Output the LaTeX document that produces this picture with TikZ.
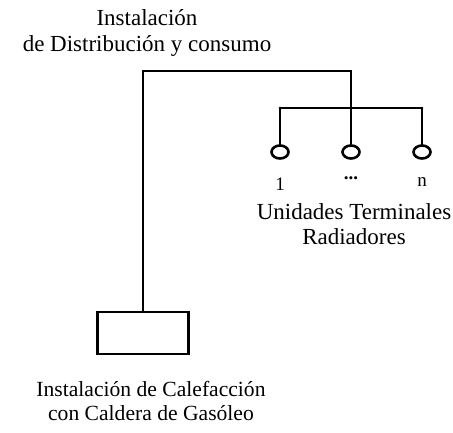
\documentclass[tikz,border=0pt]{standalone}
\usepackage{fontspec}
\setmainfont{Liberation Serif}
\usetikzlibrary{positioning,shapes.geometric}

\begin{document}
\begin{tikzpicture}[
  x=1pt, y=-1pt,
  pipe/.style={line width=2.8pt, line cap=round},
  label/.style={align=center, font=\fontsize{23}{25.5}\selectfont, inner sep=0pt},
  unit/.style={draw, line width=2.6pt, ellipse, minimum width=17pt, minimum height=13pt, inner sep=0pt}
]
\useasboundingbox (0,0) rectangle (453,432);

% Caldera
\node[draw, line width=2.8pt, minimum width=91pt, minimum height=42pt, inner sep=0pt] (caldera) at (143,333) {};
\node[label, font=\fontsize{21.6}{24.5}\selectfont] (caltext) at (151,401) {Instalación de Calefacción\\con Caldera de Gasóleo};

% Distribucion
\coordinate (codo) at (caldera.north |- 0,71);
\coordinate (nudo) at (351,71);
\coordinate (rama) at (351,108);
\node[label] (distext) at (147,33) {Instalación\\de Distribución y consumo};

% Unidades terminales
\node[unit] (u1) at (280,152) {};
\node[unit] (u2) at (351,152) {};
\node[unit] (un) at (422,152) {};
\coordinate (r1) at (u1.north |- rama);
\coordinate (rn) at (un.north |- rama);

\node[label, font=\fontsize{19}{22}\selectfont] (n1) at (280,184) {1};
\node[label, font=\bfseries\fontsize{19}{22}\selectfont] (n2) at (351,178) {...};
\node[label, font=\fontsize{19}{22}\selectfont] (nn) at (422,182) {n};
\node[label] (unitext) at (354,224) {Unidades Terminales\\Radiadores};

\draw[pipe] (caldera.north) -- (codo) -- (nudo) -- (rama);
\draw[pipe] (r1) -- (rn);
\draw[pipe] (r1) -- (u1.north);
\draw[pipe] (rama) -- (u2.north);
\draw[pipe] (rn) -- (un.north);
\end{tikzpicture}
\end{document}
